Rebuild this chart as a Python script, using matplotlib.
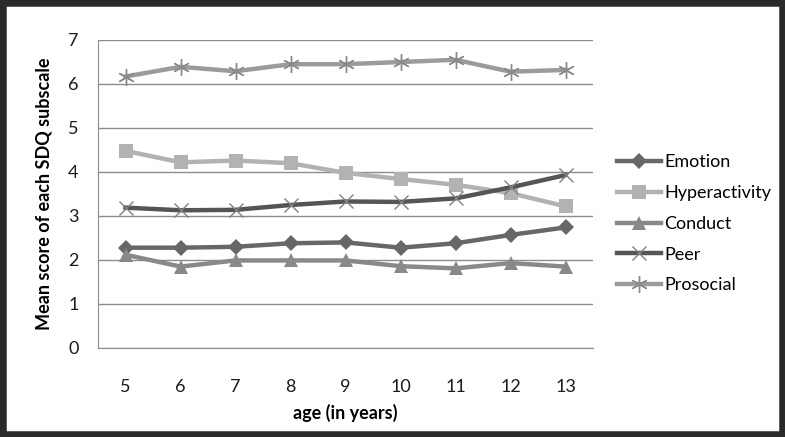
import matplotlib
matplotlib.use("Agg")
import matplotlib.pyplot as plt
from matplotlib.patches import Rectangle

ages = [5, 6, 7, 8, 9, 10, 11, 12, 13]
emotion = [2.28, 2.28, 2.30, 2.38, 2.40, 2.28, 2.38, 2.57, 2.74]
hyperactivity = [4.48, 4.22, 4.26, 4.20, 3.98, 3.84, 3.71, 3.52, 3.22]
conduct = [2.12, 1.85, 1.99, 1.99, 1.99, 1.86, 1.81, 1.93, 1.85]
peer = [3.19, 3.13, 3.14, 3.25, 3.33, 3.32, 3.40, 3.65, 3.93]
prosocial = [6.17, 6.39, 6.29, 6.45, 6.45, 6.50, 6.55, 6.28, 6.32]

series_names = ["Emotion", "Hyperactivity", "Conduct", "Peer", "Prosocial"]
yticks = [0, 1, 2, 3, 4, 5, 6, 7]

plt.rcParams['font.family'] = ['Lato', 'DejaVu Sans']

fig = plt.figure(figsize=(7.85, 4.37), dpi=100)
ax = fig.add_axes([98/785, 1-348/437, (593-98)/785, (348-40)/437])

styles = [
    dict(color="#676767", marker="D", ms=8, mew=0),
    dict(color="#b2b2b2", marker="s", ms=10, mew=0),
    dict(color="#898989", marker="^", ms=10, mew=0),
    dict(color="#555555", marker="x", ms=10, mew=1, mec="#808080"),
    dict(color="#9b9b9b", marker=(6, 2, 0), ms=12, mew=1, mec="#8a8a8a"),
]
data = [emotion, hyperactivity, conduct, peer, prosocial]
for name, vals, st in zip(series_names, data, styles):
    ax.plot(ages, vals, lw=3.2, label=name, zorder=3, **st)

ax.set_xlim(4.5, 13.5)
ax.set_ylim(0, 7)
ax.set_yticks(yticks)
ax.set_xticks(ages)
ax.grid(axis='y', color="#8c8c8c", lw=1)
ax.set_axisbelow(True)
for s in ['top', 'right']:
    ax.spines[s].set_visible(False)
for s in ['left', 'bottom']:
    ax.spines[s].set_color("#8c8c8c")
ax.tick_params(axis='both', length=0, labelsize=13, colors="#1a1a1a")
ax.tick_params(axis='y', pad=14)
ax.tick_params(axis='x', pad=22)
ax.set_xlabel("age (in years)", fontsize=13, fontweight='bold', labelpad=7)
ax.set_ylabel("Mean score of each SDQ subscale", fontsize=13, fontweight='bold', labelpad=11)

leg = fig.legend(loc='upper left', bbox_to_anchor=(610/785, 1-147/437), frameon=False,
                 fontsize=13, handlelength=2.4, handletextpad=0.2, labelspacing=0.82,
                 borderaxespad=0)

fig.patches.append(Rectangle((0, 0), 1, 1, transform=fig.transFigure, fill=False,
                             edgecolor="#2a2a2a", lw=9, zorder=10))

fig.savefig("out.png", dpi=100)
